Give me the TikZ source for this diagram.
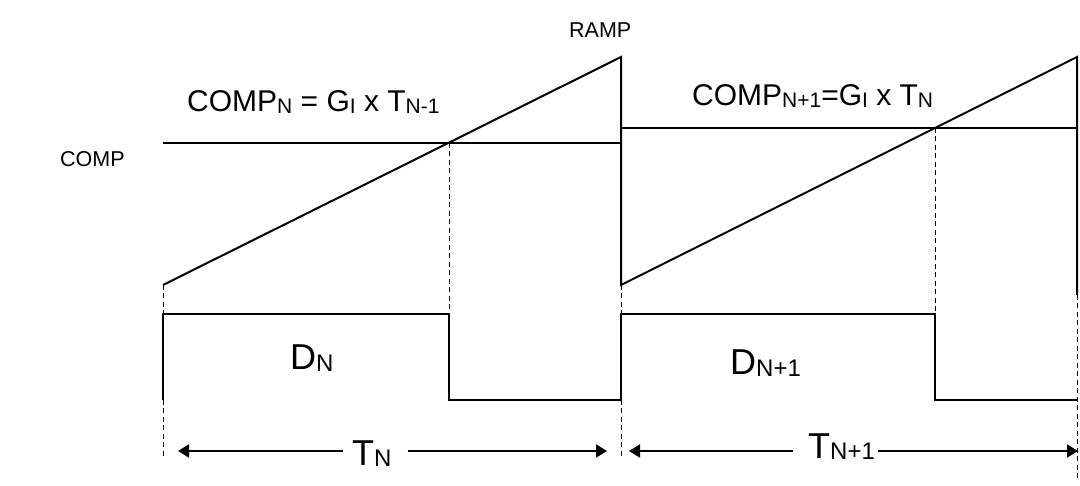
\documentclass[tikz,border=0pt]{standalone}
\usepackage{fontspec}
\setmainfont{Liberation Sans}
\usetikzlibrary{arrows.meta}
\newcommand{\lowsub}[2]{\raisebox{-1.2pt}{\fontsize{#1}{#1}\selectfont #2}}
\tikzset{
  wave/.style={line width=2pt, line join=miter},
  guide/.style={line width=1pt, dash pattern=on 5pt off 3.5pt},
  dimarrow/.style={line width=2pt, -{Triangle[length=11pt,width=13pt]}},
  lbl/.style={inner sep=0pt, anchor=base west},
  small/.style={lbl, font=\fontsize{21.5}{21.5}\selectfont},
  mid/.style={lbl, font=\fontsize{30}{30}\selectfont},
  big/.style={lbl, font=\fontsize{36}{36}\selectfont},
}
\begin{document}
\begin{tikzpicture}[x=1pt, y=-1pt]
\useasboundingbox (0,0) rectangle (1080,486);
% key coordinates
\coordinate (r1s) at (163,285);
\coordinate (r1e) at (621,57);
\coordinate (r2s) at (621,285);
\coordinate (r2e) at (1077,57);
\coordinate (x1) at (449,143);
\coordinate (x2) at (935,128);
% ramps
\draw[wave] (r1s) -- (r1e) -- (r2s) -- (r2e) -- (1077,295);
% comp levels
\draw[wave] (163,143) -- (621,143);
\draw[wave] (621,128) -- (1077,128);
% pulse train
\draw[wave] (163,400) -- (163,314) -- (449,314) -- (449,400) -- (621,400)
  -- (621,314) -- (935,314) -- (935,400) -- (1077,400);
% dashed guides
\draw[guide] (r1s) -- (163,314);
\draw[guide] (163,400) -- (163,458);
\draw[guide] (x1) -- (449,314);
\draw[guide] (r2s) -- (621,314);
\draw[guide] (621,400) -- (621,458);
\draw[guide] (x2) -- (935,314);
\draw[guide] (1077,295) -- (1077,478);
% labels
\node[small] (ramp) at (569,38) {RAMP};
\node[small] (comp) at (60,167) {COMP};
\node[mid] (eq1) at (187,112) {COMP\lowsub{21}{N} = G\lowsub{21}{I} x T\lowsub{21}{N-1}};
\node[mid] (eq2) at (692,106) {COMP\lowsub{21}{N+1}=G\lowsub{21}{I} x T\lowsub{21}{N}};
\node[big] (dn) at (290,370) {D\lowsub{24}{N}};
\node[big] (dn1) at (730,375) {D\lowsub{24}{N+1}};
\node[big] (tn) at (352,465) {T\lowsub{24}{N}};
\node[big] (tn1) at (808,458) {T\lowsub{24}{N+1}};
% period arrows
\coordinate (a1l) at (178,451);
\coordinate (a1r) at (607,451);
\coordinate (a2l) at (629,451);
\coordinate (a2r) at (1078,451);
\draw[dimarrow] ([xshift=-9pt]tn.west |- a1l) -- (a1l);
\draw[dimarrow] ([xshift=16pt]tn.east |- a1r) -- (a1r);
\draw[dimarrow] ([xshift=-15pt]tn1.west |- a2l) -- (a2l);
\draw[dimarrow] ([xshift=3pt]tn1.east |- a2r) -- (a2r);
\end{tikzpicture}
\end{document}
